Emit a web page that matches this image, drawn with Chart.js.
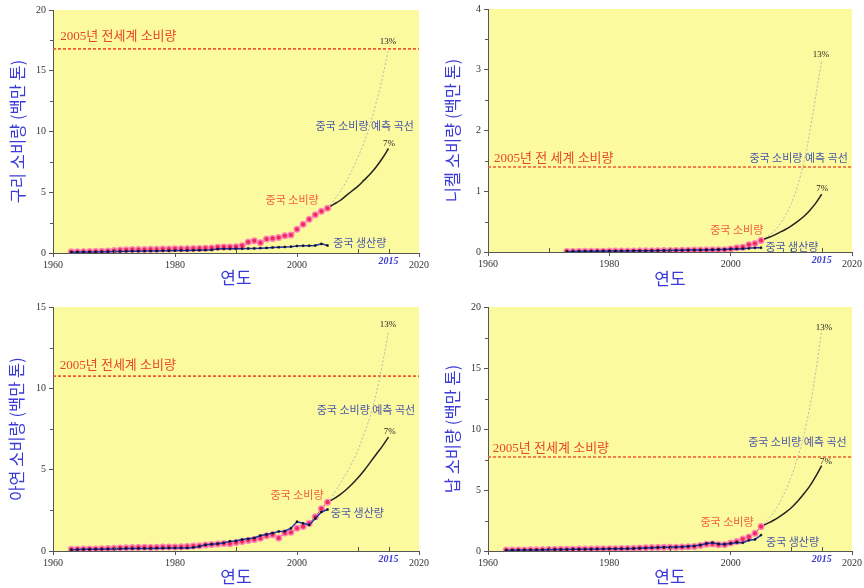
<!DOCTYPE html>
<html>
<head>
<meta charset="utf-8">
<script src="https://cdn.jsdelivr.net/npm/chart.js@4.4.1/dist/chart.umd.min.js"></script>
<style>
  body { margin: 0; background: #fff; width: 864px; height: 588px; overflow: hidden; position: relative; }
  canvas { position: absolute; }
</style>
</head>
<body>
<canvas id="cu" width="432" height="294" style="left:0;top:0"></canvas>
<canvas id="ni" width="432" height="294" style="left:432px;top:0"></canvas>
<canvas id="zn" width="432" height="294" style="left:0;top:294px"></canvas>
<canvas id="pb" width="432" height="294" style="left:432px;top:294px"></canvas>
<script>
// years of actual data
const years = [1963, 1964, 1965, 1966, 1967, 1968, 1969, 1970, 1971, 1972,
  1973, 1974, 1975, 1976, 1977, 1978, 1979, 1980, 1981, 1982,
  1983, 1984, 1985, 1986, 1987, 1988, 1989, 1990, 1991, 1992,
  1993, 1994, 1995, 1996, 1997, 1998, 1999, 2000, 2001, 2002,
  2003, 2004, 2005];
const nickelYears = [1973, 1974, 1975, 1976, 1977, 1978, 1979, 1980, 1981, 1982,
  1983, 1984, 1985, 1986, 1987, 1988, 1989, 1990, 1991, 1992,
  1993, 1994, 1995, 1996, 1997, 1998, 1999, 2000, 2001, 2002,
  2003, 2004, 2005];
const forecastYears = [2005, 2006, 2007, 2008, 2009, 2010, 2011, 2012, 2013, 2014, 2015];
const xTicks = [1960, 1980, 2000, 2020];

// copper (million t)
const copperUse = [0.10, 0.10, 0.11, 0.12, 0.13, 0.14, 0.17, 0.20, 0.24, 0.26,
  0.28, 0.28, 0.29, 0.30, 0.31, 0.32, 0.33, 0.34, 0.35, 0.36,
  0.37, 0.38, 0.40, 0.42, 0.48, 0.50, 0.50, 0.52, 0.60, 0.90,
  1.00, 0.85, 1.15, 1.20, 1.27, 1.42, 1.48, 1.95, 2.36, 2.77,
  3.15, 3.43, 3.68];
const copperProd = [0.07, 0.08, 0.08, 0.09, 0.09, 0.10, 0.11, 0.12, 0.13, 0.14,
  0.15, 0.15, 0.16, 0.16, 0.17, 0.18, 0.19, 0.20, 0.21, 0.21,
  0.22, 0.23, 0.24, 0.26, 0.33, 0.34, 0.35, 0.35, 0.36, 0.37,
  0.38, 0.40, 0.42, 0.45, 0.47, 0.50, 0.52, 0.58, 0.60, 0.60,
  0.62, 0.75, 0.62];
const copper7 = [3.68, 4.0, 4.3, 4.7, 5.1, 5.5, 6.0, 6.5, 7.1, 7.8, 8.6];
const copper13 = [3.68, 4.3, 5.0, 5.8, 6.8, 7.9, 9.1, 10.6, 12.4, 14.4, 16.8];
const copperWorld = 16.8;

// nickel
const nickelUse = [0.010, 0.010, 0.011, 0.012, 0.012, 0.013, 0.014, 0.015, 0.015, 0.016,
  0.017, 0.018, 0.019, 0.020, 0.021, 0.022, 0.023, 0.024, 0.026, 0.028,
  0.030, 0.031, 0.033, 0.034, 0.035, 0.036, 0.038, 0.050, 0.070, 0.080,
  0.120, 0.140, 0.190];
const nickelProd = [0.010, 0.010, 0.011, 0.012, 0.013, 0.014, 0.015, 0.016, 0.016, 0.017,
  0.018, 0.019, 0.020, 0.021, 0.022, 0.023, 0.024, 0.026, 0.028, 0.030,
  0.031, 0.033, 0.034, 0.036, 0.038, 0.040, 0.042, 0.050, 0.050, 0.055,
  0.060, 0.068, 0.070];
const nickel7 = [0.19, 0.23, 0.27, 0.32, 0.37, 0.43, 0.50, 0.58, 0.68, 0.80, 0.95];
const nickel13 = [0.19, 0.25, 0.33, 0.44, 0.60, 0.80, 1.08, 1.45, 1.95, 2.55, 3.15];
const nickelWorld = 1.4;

// zinc
const zincUse = [0.10, 0.11, 0.12, 0.13, 0.13, 0.14, 0.15, 0.17, 0.19, 0.20,
  0.21, 0.22, 0.23, 0.22, 0.23, 0.24, 0.25, 0.25, 0.26, 0.28,
  0.30, 0.32, 0.37, 0.40, 0.43, 0.46, 0.45, 0.52, 0.58, 0.65,
  0.70, 0.78, 0.93, 1.00, 0.80, 1.10, 1.15, 1.40, 1.50, 1.70,
  2.10, 2.60, 3.00];
const zincProd = [0.08, 0.09, 0.10, 0.10, 0.11, 0.11, 0.12, 0.13, 0.14, 0.15,
  0.15, 0.16, 0.16, 0.16, 0.17, 0.17, 0.18, 0.18, 0.18, 0.19,
  0.22, 0.28, 0.38, 0.42, 0.45, 0.50, 0.60, 0.62, 0.70, 0.75,
  0.80, 0.95, 1.02, 1.10, 1.20, 1.22, 1.40, 1.80, 1.70, 1.60,
  2.00, 2.40, 2.55];
const zinc7 = [3.0, 3.2, 3.45, 3.75, 4.1, 4.5, 4.95, 5.45, 5.95, 6.45, 7.0];
const zinc13 = [3.0, 3.5, 4.1, 4.7, 5.4, 6.2, 7.2, 8.3, 9.7, 11.5, 13.5];
const zincWorld = 10.75;

// lead
const leadUse = [0.08, 0.08, 0.09, 0.09, 0.10, 0.10, 0.11, 0.12, 0.13, 0.14,
  0.14, 0.15, 0.16, 0.16, 0.17, 0.18, 0.18, 0.19, 0.19, 0.20,
  0.21, 0.22, 0.25, 0.27, 0.28, 0.29, 0.30, 0.30, 0.31, 0.32,
  0.34, 0.36, 0.45, 0.55, 0.58, 0.52, 0.52, 0.65, 0.78, 0.98,
  1.15, 1.45, 2.00];
const leadProd = [0.07, 0.07, 0.08, 0.08, 0.09, 0.09, 0.10, 0.11, 0.12, 0.12,
  0.13, 0.14, 0.14, 0.15, 0.15, 0.16, 0.17, 0.18, 0.18, 0.19,
  0.19, 0.20, 0.22, 0.24, 0.26, 0.28, 0.30, 0.31, 0.32, 0.34,
  0.38, 0.42, 0.50, 0.62, 0.68, 0.58, 0.55, 0.62, 0.70, 0.68,
  0.88, 0.95, 1.30];
const lead7 = [2.0, 2.25, 2.5, 2.8, 3.15, 3.55, 4.05, 4.65, 5.3, 6.1, 7.0];
const lead13 = [2.0, 2.5, 3.1, 3.9, 4.9, 6.1, 7.6, 9.4, 11.7, 14.6, 18.1];
const leadWorld = 7.7;

const SERIF = '"Liberation Serif", "Noto Sans CJK KR", serif';
const KR = '"Noto Sans CJK KR", sans-serif';
const BLUE = "#3a3ad8";
const RED = "#e8482a";
const SALMON = "#f0603e";
const SLATE = "#4a58a8";
const AXIS = "#555";

function pairs(xs, ys) {
  return xs.map((x, i) => ({ x: x, y: ys[i] }));
}

const bgPlugin = {
  id: "yellowBg",
  beforeDraw(chart) {
    const a = chart.chartArea;
    chart.ctx.save();
    chart.ctx.fillStyle = "#fcfa9e";
    chart.ctx.fillRect(a.left, a.top, a.right - a.left, a.bottom - a.top);
    chart.ctx.restore();
  },
};

function extrasPlugin(minorY, notes) {
  return {
    id: "extras",
    afterDraw(chart) {
      const { ctx, chartArea } = chart;
      const x = chart.scales.x;
      const y = chart.scales.y;
      ctx.save();
      ctx.strokeStyle = AXIS;
      ctx.lineWidth = 1;
      ctx.beginPath();
      [1970, 1990, 2010, 2015].forEach((v) => {
        const px = Math.round(x.getPixelForValue(v)) + 0.5;
        ctx.moveTo(px, chartArea.bottom);
        ctx.lineTo(px, chartArea.bottom - 4);
      });
      minorY.forEach((v) => {
        const py = Math.round(y.getPixelForValue(v)) + 0.5;
        ctx.moveTo(chartArea.left, py);
        ctx.lineTo(chartArea.left - 3, py);
      });
      ctx.stroke();

      ctx.textBaseline = "middle";
      notes.forEach((n) => {
        ctx.font = n.font;
        ctx.fillStyle = n.color;
        ctx.textAlign = n.align || "center";
        ctx.fillText(n.text, x.getPixelForValue(n.x), y.getPixelForValue(n.y));
      });

      ctx.font = "italic bold 10px " + SERIF;
      ctx.fillStyle = "#3a3ad0";
      ctx.textAlign = "center";
      ctx.fillText("2015", x.getPixelForValue(2015), chartArea.bottom + 8);
      ctx.restore();
    },
  };
}

function makePanel(id, p) {
  const small = "11px " + KR;
  const pct = "9px " + SERIF;
  const notes = [
    { text: p.worldText, x: p.worldAt[0], y: p.worldAt[1], color: RED, font: "13px " + SERIF, align: "left" },
    { text: "13%", x: p.n13[0], y: p.n13[1], color: "#222", font: pct },
    { text: "중국 소비량 예측 곡선", x: p.nCurve[0], y: p.nCurve[1], color: SLATE, font: small },
    { text: "7%", x: p.n7[0], y: p.n7[1], color: "#222", font: pct },
    { text: "중국 소비량", x: p.nUse[0], y: p.nUse[1], color: SALMON, font: small },
    { text: "중국 생산량", x: p.nProd[0], y: p.nProd[1], color: SLATE, font: small },
  ];

  return new Chart(document.getElementById(id), {
    type: "line",
    data: {
      datasets: [
        {
          data: pairs(p.years, p.prod),
          borderColor: "#2233b8",
          borderWidth: 1.5,
          pointStyle: "rect",
          pointRadius: 1.3,
          pointBackgroundColor: "#111",
          pointBorderColor: "#111",
          pointBorderWidth: 0.5,
        },
        {
          data: pairs(p.years, p.use),
          borderColor: "#e0285a",
          borderWidth: 1,
          pointRadius: 2.8,
          pointBackgroundColor: "#ee2a5c",
          pointBorderColor: "#ff86b4",
          pointBorderWidth: 1.4,
        },
        {
          data: pairs(forecastYears, p.f7),
          borderColor: "#222",
          borderWidth: 1.5,
          pointRadius: 0,
          cubicInterpolationMode: "monotone",
        },
        {
          data: pairs(forecastYears, p.f13),
          borderColor: "#b8b8b8",
          borderWidth: 1,
          borderDash: [2, 2],
          pointRadius: 0,
          cubicInterpolationMode: "monotone",
        },
        {
          data: [{ x: 1960, y: p.world }, { x: 2020, y: p.world }],
          borderColor: "#f05a32",
          borderWidth: 1.6,
          borderDash: [3, 2],
          pointRadius: 0,
        },
      ],
    },
    options: {
      responsive: false,
      animation: false,
      devicePixelRatio: 1,
      layout: { padding: { left: 0, right: p.padR, top: p.padT, bottom: 0 } },
      plugins: { legend: { display: false }, tooltip: { enabled: false } },
      scales: {
        x: {
          type: "linear",
          min: 1960,
          max: 2020,
          afterFit(s) { s.height = p.xH; },
          afterBuildTicks(s) { s.ticks = xTicks.map((v) => ({ value: v })); },
          ticks: {
            padding: 2,
            maxRotation: 0,
            color: "#333",
            font: { family: SERIF, size: 10 },
            callback: (v) => String(v),
          },
          grid: { drawOnChartArea: false, tickLength: 4, color: AXIS },
          border: { color: AXIS },
          title: {
            display: true,
            text: "연도",
            color: BLUE,
            font: { family: KR, size: 17 },
            padding: { top: 0, bottom: p.xTitlePad },
          },
        },
        y: {
          min: 0,
          max: p.yMax,
          afterFit(s) { s.width = p.yW; },
          afterBuildTicks(s) { s.ticks = p.yTicks.map((v) => ({ value: v })); },
          ticks: {
            padding: 3,
            color: "#333",
            font: { family: SERIF, size: 10 },
          },
          grid: { drawOnChartArea: false, tickLength: 4, color: AXIS },
          border: { color: AXIS },
          title: {
            display: true,
            text: p.yTitle,
            color: BLUE,
            font: { family: KR, size: 16.5 },
            padding: { top: p.yTitlePad, bottom: 0 },
          },
        },
      },
    },
    plugins: [bgPlugin, extrasPlugin(p.minorY, notes)],
  });
}

makePanel("cu", {
  years: years, use: copperUse, prod: copperProd, f7: copper7, f13: copper13, world: copperWorld,
  yMax: 20, yTicks: [0, 5, 10, 15, 20], minorY: [2.5, 7.5, 12.5, 17.5],
  yTitle: "구리 소비량 (백만 톤)", worldText: "2005년 전세계 소비량",
  worldAt: [1961.2, 17.8], n13: [2014.9, 17.4], nCurve: [2011.1, 10.45], n7: [2015.1, 8.97],
  nUse: [1999.2, 4.36], nProd: [2010.3, 0.82],
  yW: 53, padR: 13, padT: 10, xH: 41, xTitlePad: 6, yTitlePad: 8,
});

makePanel("ni", {
  years: nickelYears, use: nickelUse, prod: nickelProd, f7: nickel7, f13: nickel13, world: nickelWorld,
  yMax: 4, yTicks: [0, 1, 2, 3, 4], minorY: [0.5, 1.5, 2.5, 3.5],
  yTitle: "니켈 소비량 (백만 톤)", worldText: "2005년 전 세계 소비량",
  worldAt: [1961, 1.53], n13: [2014.9, 3.25], nCurve: [2011.2, 1.55], n7: [2015.1, 1.04],
  nUse: [2001.0, 0.37], nProd: [2010.1, 0.09],
  yW: 56, padR: 11, padT: 7, xH: 42, xTitlePad: 5, yTitlePad: 11,
});

makePanel("zn", {
  years: years, use: zincUse, prod: zincProd, f7: zinc7, f13: zinc13, world: zincWorld,
  yMax: 15, yTicks: [0, 5, 10, 15], minorY: [2.5, 7.5, 12.5],
  yTitle: "아연 소비량 (백만 톤)", worldText: "2005년 전세계 소비량",
  worldAt: [1961.1, 11.39], n13: [2014.9, 13.93], nCurve: [2011.3, 8.67], n7: [2015.2, 7.33],
  nUse: [2000.0, 3.44], nProd: [2009.9, 2.32],
  yW: 53, padR: 13, padT: 13, xH: 37, xTitlePad: 1, yTitlePad: 7,
});

makePanel("pb", {
  years: years, use: leadUse, prod: leadProd, f7: lead7, f13: lead13, world: leadWorld,
  yMax: 20, yTicks: [0, 5, 10, 15, 20], minorY: [2.5, 7.5, 12.5, 17.5],
  yTitle: "납 소비량 (백만 톤)", worldText: "2005년 전세계 소비량",
  worldAt: [1960.8, 8.42], n13: [2015.4, 18.3], nCurve: [2011.0, 8.96], n7: [2015.7, 7.32],
  nUse: [1999.4, 2.4], nProd: [2010.2, 0.76],
  yW: 56, padR: 11, padT: 13, xH: 37, xTitlePad: 1, yTitlePad: 11,
});
</script>
</body>
</html>
